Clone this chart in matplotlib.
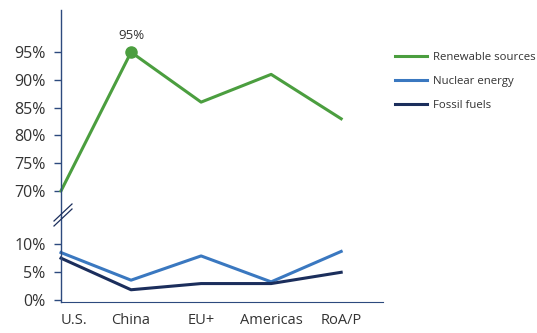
import matplotlib.pyplot as plt
from matplotlib.lines import Line2D

regions = ["U.S.", "China", "EU+", "Americas", "RoA/P"]
renewable = [70, 95, 86, 91, 83]
nuclear = [8.5, 3.6, 7.9, 3.3, 8.7]
fossil = [7.5, 1.9, 3.0, 3.0, 5.0]
top_ticks = [70, 75, 80, 85, 90, 95]
bottom_ticks = [0, 5, 10]

green = "#4b9e3f"
blue = "#3a78c0"
navy = "#1b2e5c"
spine_col = "#2d4a7e"
text_col = "#333333"

plt.rcParams["font.family"] = ["Open Sans", "DejaVu Sans"]

fig = plt.figure(figsize=(5.37, 3.33), dpi=100)
ax_top = fig.add_axes([0.1136, 0.3483, 0.6, 0.6217])
ax_bot = fig.add_axes([0.1136, 0.0931, 0.6, 0.2552])

x = list(range(len(regions)))

ax_top.plot(x, renewable, color=green, lw=2.2, clip_on=False)
ax_top.plot(x[1], renewable[1], "o", color=green, ms=8, clip_on=False)
ax_top.annotate(f"{renewable[1]}%", (x[1], renewable[1]), xytext=(0, 7),
                textcoords="offset points", ha="center", va="bottom",
                fontsize=9.5, color=text_col)
ax_top.set_ylim(65.3, 102.6)
ax_top.set_yticks(top_ticks, labels=[f"{t}%" for t in top_ticks])

ax_bot.plot(x, nuclear, color=blue, lw=2.2, clip_on=False)
ax_bot.plot(x, fossil, color=navy, lw=2.2, clip_on=False)
ax_bot.set_ylim(-0.27, 14.8)
ax_bot.set_yticks(bottom_ticks, labels=[f"{t}%" for t in bottom_ticks])
ax_bot.set_xticks(x, labels=regions)
ax_bot.get_xticklabels()[0].set_ha("left")

for ax in (ax_top, ax_bot):
    ax.set_xlim(0, 4.6)
    for s in ("top", "right"):
        ax.spines[s].set_visible(False)
    ax.spines["left"].set_color(spine_col)
    ax.spines["left"].set_linewidth(1.0)
    ax.tick_params(axis="y", colors=spine_col, labelcolor=text_col,
                   labelsize=11.5, length=5, width=1, pad=6)
    ax.patch.set_alpha(0)

ax_top.spines["bottom"].set_visible(False)
ax_top.set_xticks([])
ax_bot.spines["bottom"].set_color(spine_col)
ax_bot.tick_params(axis="x", length=0, labelsize=10.5, labelcolor=text_col, pad=8)

# axis break marks
for dy in (0, 5):
    fig.add_artist(Line2D([54 / 537, 72 / 537],
                          [1 - (226 - dy) / 333, 1 - (209 - dy) / 333],
                          color=navy, lw=0.9))

handles = [Line2D([], [], color=c, lw=2.2) for c in (green, blue, navy)]
fig.legend(handles, ["Renewable sources", "Nuclear energy", "Fossil fuels"],
           loc="upper left", bbox_to_anchor=(0.72, 0.868), frameon=False,
           fontsize=8.2, handlelength=2.8, handletextpad=0.6,
           labelspacing=1.15, labelcolor=text_col, borderaxespad=0.3)

fig.savefig("out.png", dpi=100)
